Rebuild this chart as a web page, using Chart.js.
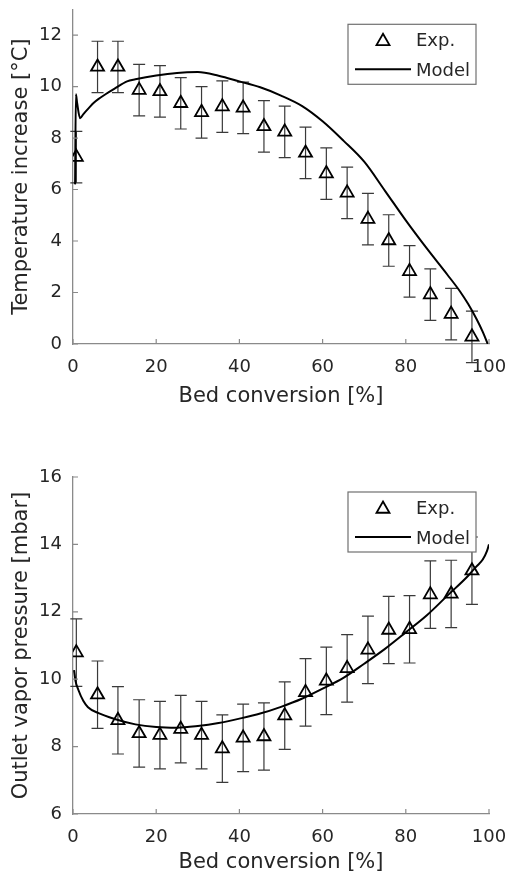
<!DOCTYPE html>
<html>
<head>
<meta charset="utf-8">
<script src="https://cdn.jsdelivr.net/npm/chart.js@4.4.1/dist/chart.umd.min.js"></script>
<style>
  html, body { margin: 0; padding: 0; background: #fff; }
  #wrap { position: relative; width: 508px; height: 886px; }
  #wrap canvas { position: absolute; left: 0; }
</style>
</head>
<body>
<div id="wrap">
  <canvas id="tempChart" width="508" height="440" style="top:0"></canvas>
  <canvas id="vaporChart" width="508" height="446" style="top:440px"></canvas>
</div>
<script>
// axis ticks
const convTicks = [0, 20, 40, 60, 80, 100];
const tempTicks = [0, 2, 4, 6, 8, 10, 12];
const vaporTicks = [6, 8, 10, 12, 14, 16];

// experiments (same conversion points for both plots)
const expConv = [0.8, 5.9, 10.8, 15.9, 20.9, 25.9, 30.9, 35.9, 40.9, 45.9, 50.9, 55.9, 60.9, 65.9, 70.9, 75.9, 80.9, 85.9, 90.9, 95.9];
const expTemp = [7.26, 10.76, 10.76, 9.86, 9.81, 9.35, 9.0, 9.22, 9.17, 8.45, 8.24, 7.42, 6.62, 5.87, 4.85, 4.02, 2.82, 1.92, 1.16, 0.28];
const expTempErr = [1.0, 1.0, 1.0, 1.0, 1.0, 1.0, 1.0, 1.0, 1.0, 1.0, 1.0, 1.0, 1.0, 1.0, 1.0, 1.0, 1.0, 1.0, 1.0, 1.0];
const expVapor = [10.79, 9.54, 8.78, 8.39, 8.34, 8.52, 8.34, 7.94, 8.26, 8.30, 8.92, 9.61, 9.95, 10.32, 10.87, 11.46, 11.48, 12.51, 12.53, 13.22];
const expVaporErr = [1.0, 1.0, 1.0, 1.0, 1.0, 1.0, 1.0, 1.0, 1.0, 1.0, 1.0, 1.0, 1.0, 1.0, 1.0, 1.0, 1.0, 1.0, 1.0, 1.0];

// model curves
const modelTempConv = [0.5, 0.7, 1.0, 1.7, 2.5, 4, 5, 6, 8, 10, 13, 15, 20, 25, 30, 35, 40, 45, 50, 55, 60, 65, 70, 75, 80, 85, 90, 93, 95, 97, 98.5, 99.7];
const modelTemp = [6.2, 9.7, 9.35, 8.77, 8.93, 9.2, 9.37, 9.5, 9.72, 9.92, 10.2, 10.28, 10.43, 10.53, 10.56, 10.42, 10.2, 9.97, 9.65, 9.25, 8.65, 7.9, 7.08, 5.95, 4.8, 3.72, 2.69, 2.05, 1.55, 0.97, 0.47, 0.0];
const modelVaporConv = [0.25, 0.6, 1.3, 2.5, 3.6, 6, 10, 15, 20, 25, 30, 35, 40, 45, 50, 55, 60, 65, 70, 75, 80, 85, 90, 95, 97, 98.5, 99.5, 100];
const modelVapor = [10.27, 9.95, 9.68, 9.35, 9.17, 9.0, 8.82, 8.66, 8.58, 8.56, 8.61, 8.7, 8.83, 8.98, 9.18, 9.42, 9.72, 10.04, 10.46, 10.9, 11.39, 11.89, 12.48, 13.07, 13.35, 13.55, 13.8, 14.0];

const FONT = '"DejaVu Sans", sans-serif';
const TEXT = '#262626';
const AXIS = '#8a8a8a';

// vertical error bars for the first dataset
const errorBars = {
  id: 'errorBars',
  beforeDatasetsDraw(chart, args, opts) {
    const { ctx, scales: { x, y } } = chart;
    ctx.save();
    ctx.strokeStyle = '#3a3a3a';
    ctx.lineWidth = 1.2;
    chart.data.datasets[0].data.forEach((p, i) => {
      const px = x.getPixelForValue(p.x);
      const top = y.getPixelForValue(p.y + opts.errors[i]);
      const bot = y.getPixelForValue(p.y - opts.errors[i]);
      ctx.beginPath();
      ctx.moveTo(px, top); ctx.lineTo(px, bot);
      ctx.moveTo(px - 6, top); ctx.lineTo(px + 6, top);
      ctx.moveTo(px - 6, bot); ctx.lineTo(px + 6, bot);
      ctx.stroke();
    });
    ctx.restore();
  }
};

// small tick marks pointing into the plot, matlab style
const inwardTicks = {
  id: 'inwardTicks',
  afterDraw(chart) {
    const { ctx, chartArea, scales: { x, y } } = chart;
    ctx.save();
    ctx.strokeStyle = AXIS;
    ctx.lineWidth = 1.2;
    ctx.beginPath();
    x.ticks.forEach(t => {
      const px = x.getPixelForValue(t.value);
      ctx.moveTo(px, chartArea.bottom); ctx.lineTo(px, chartArea.bottom - 5);
    });
    y.ticks.forEach(t => {
      const py = y.getPixelForValue(t.value);
      ctx.moveTo(chartArea.left, py); ctx.lineTo(chartArea.left + 5, py);
    });
    ctx.stroke();
    ctx.restore();
  }
};

// boxed legend inside the top right corner
const boxLegend = {
  id: 'boxLegend',
  afterDraw(chart) {
    const { ctx, chartArea } = chart;
    const ds = chart.data.datasets;
    const bx = chartArea.right - 141, by = chartArea.top + 15, bw = 128, bh = 60;
    ctx.save();
    ctx.fillStyle = '#fff';
    ctx.fillRect(bx, by, bw, bh);
    ctx.strokeStyle = '#707070';
    ctx.lineWidth = 1.2;
    ctx.strokeRect(bx, by, bw, bh);
    // triangle marker
    const cx = bx + 35, cy = by + 17, r = 7.5;
    ctx.strokeStyle = '#000';
    ctx.lineWidth = 1.8;
    ctx.beginPath();
    ctx.moveTo(cx, cy - r);
    ctx.lineTo(cx + r * Math.sin(2 * Math.PI / 3), cy - r * Math.cos(2 * Math.PI / 3));
    ctx.lineTo(cx + r * Math.sin(4 * Math.PI / 3), cy - r * Math.cos(4 * Math.PI / 3));
    ctx.closePath();
    ctx.stroke();
    // line sample
    ctx.lineWidth = 2;
    ctx.beginPath();
    ctx.moveTo(bx + 7, by + 45); ctx.lineTo(bx + 63, by + 45);
    ctx.stroke();
    ctx.font = '18px ' + FONT;
    ctx.fillStyle = TEXT;
    ctx.textBaseline = 'middle';
    ctx.fillText(ds[0].label, bx + 68, by + 17);
    ctx.fillText(ds[1].label, bx + 68, by + 47);
    ctx.restore();
  }
};

function makeChart(id, s) {
  const pts = expConv.map((c, i) => ({ x: c, y: s.expY[i] }));
  const line = s.modelX.map((c, i) => ({ x: c, y: s.modelY[i] }));
  return new Chart(document.getElementById(id), {
    type: 'scatter',
    data: {
      datasets: [
        {
          label: 'Exp.',
          data: pts,
          pointStyle: 'triangle',
          pointRadius: 7.5,
          pointBorderWidth: 1.8,
          borderColor: '#000',
          backgroundColor: 'rgba(0,0,0,0)',
          showLine: false
        },
        {
          label: 'Model',
          data: line,
          showLine: true,
          pointRadius: 0,
          borderColor: '#000',
          borderWidth: 2,
          cubicInterpolationMode: 'monotone'
        }
      ]
    },
    options: {
      responsive: false,
      animation: false,
      layout: { padding: { left: 0, right: 19, top: s.padTop, bottom: 0 } },
      plugins: {
        legend: { display: false },
        tooltip: { enabled: false },
        errorBars: { errors: s.errs }
      },
      scales: {
        x: {
          type: 'linear',
          min: 0,
          max: 100,
          afterBuildTicks: a => { a.ticks = convTicks.map(v => ({ value: v })); },
          afterFit: a => { a.height = s.xHeight; a.paddingLeft = 0; a.paddingRight = 0; },
          grid: { display: false, drawTicks: false },
          border: { display: true, color: AXIS, width: 1.3 },
          ticks: { color: TEXT, font: { family: FONT, size: 18 }, padding: 13, maxRotation: 0 },
          title: {
            display: true,
            text: 'Bed conversion [%]',
            color: TEXT,
            font: { family: FONT, size: 21 },
            padding: { top: 0, bottom: s.xTitlePad }
          }
        },
        y: {
          type: 'linear',
          min: s.yMin,
          max: s.yMax,
          afterBuildTicks: a => { a.ticks = s.yTicks.map(v => ({ value: v })); },
          afterFit: a => { a.width = 73; a.paddingTop = 0; a.paddingBottom = 0; },
          grid: { display: false, drawTicks: false },
          border: { display: true, color: AXIS, width: 1.3 },
          ticks: { color: TEXT, font: { family: FONT, size: 18 }, padding: 11 },
          title: {
            display: true,
            text: s.yTitle,
            color: TEXT,
            font: { family: FONT, size: 21 },
            padding: { top: 9, bottom: 0 }
          }
        }
      }
    },
    plugins: [errorBars, inwardTicks, boxLegend]
  });
}

makeChart('tempChart', {
  expY: expTemp, errs: expTempErr,
  modelX: modelTempConv, modelY: modelTemp,
  yTicks: tempTicks, yMin: 0, yMax: 13,
  yTitle: 'Temperature increase [°C]',
  padTop: 7, xHeight: 96, xTitlePad: 31
});

makeChart('vaporChart', {
  expY: expVapor, errs: expVaporErr,
  modelX: modelVaporConv, modelY: modelVapor,
  yTicks: vaporTicks, yMin: 6, yMax: 16,
  yTitle: 'Outlet vapor pressure [mbar]',
  padTop: 37, xHeight: 72, xTitlePad: 11
});
</script>
</body>
</html>
